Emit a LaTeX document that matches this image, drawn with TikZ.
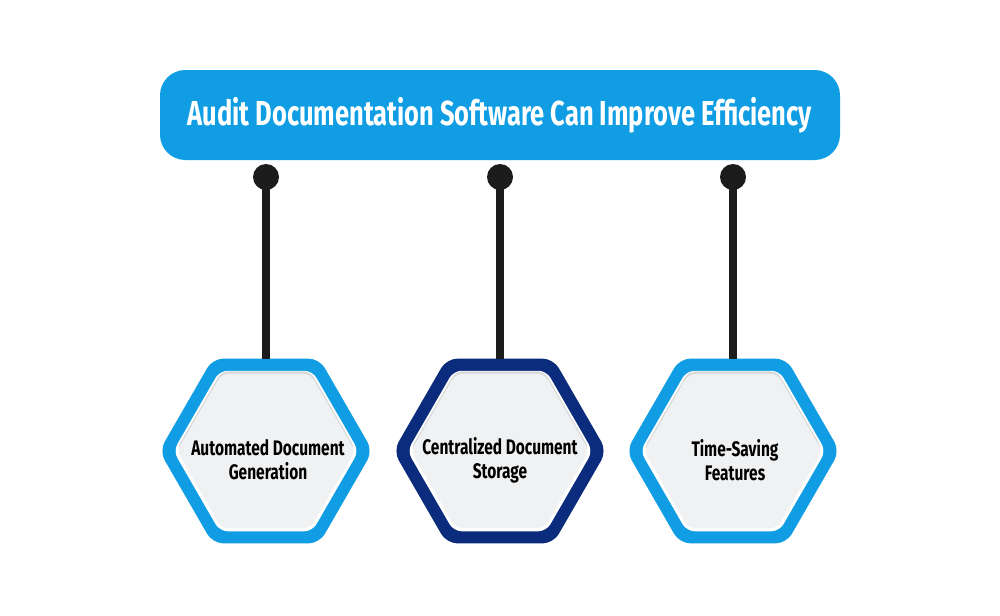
\documentclass[tikz,border=0pt]{standalone}
\usepackage{fontspec}
\setmainfont[FakeStretch=0.735]{Fira Sans}
\usetikzlibrary{shapes.geometric}
\definecolor{skyb}{HTML}{109DE3}
\definecolor{navyb}{HTML}{0B2C7C}
\definecolor{hexgrey}{HTML}{F0F1F2}
\definecolor{hexshadow}{HTML}{D8D9DA}
\definecolor{pin}{HTML}{1C1C1C}
\tikzset{
  hexbase/.style={regular polygon, regular polygon sides=6, inner sep=0pt, outer sep=0pt, draw=none},
  hexouter/.style={hexbase, minimum size=160pt, rounded corners=8pt, fill=#1},
  hexwhite/.style={hexbase, minimum size=139pt, rounded corners=6pt, fill=white},
  hexshade/.style={hexbase, minimum size=133.5pt, rounded corners=5pt, fill=hexshadow},
  hexinner/.style={hexbase, minimum size=133.5pt, rounded corners=5pt, fill=hexgrey},
  hexlabel/.style={align=center, font=\bfseries\fontsize{15.8}{18}\selectfont, text=black},
  pindot/.style={circle, fill=pin, minimum size=19.5pt, inner sep=0pt},
  pinline/.style={draw=pin, line width=6pt},
  banner/.style={rounded corners=19pt, fill=skyb, minimum width=510pt, minimum height=67.5pt, text=white, font=\bfseries\fontsize{26}{30}\selectfont}
}
\begin{document}
\begin{tikzpicture}[x=0.75pt,y=-0.75pt]
\fill[white] (0,0) rectangle (1000,615);
\useasboundingbox (0,0) rectangle (1000,615);
\coordinate (t1) at (266,177);
\coordinate (t2) at (500,177);
\coordinate (t3) at (733,177);
\foreach \i/\x/\c in {1/266/skyb, 2/500/navyb, 3/733/skyb}{
  \node[hexouter=\c] (h\i) at (\x,451) {};
  \draw[pinline] (t\i) -- (h\i.north);
  \node[hexwhite] (w\i) at (\x,451) {};
  \node[hexshade] (s\i) at (\x,448.5) {};
  \node[hexinner] (g\i) at (\x,451) {};
}
\node[banner] (title) at (500,115) {Audit Documentation Software Can Improve Efficiency};
\foreach \i in {1,2,3}{
  \node[pindot] (d\i) at (t\i) {};
}
\node[hexlabel] (l1) at (268,460) {Automated Document\\Generation};
\node[hexlabel] (l2) at (500,460) {Centralized Document\\Storage};
\node[hexlabel] (l3) at (735,460) {Time-Saving\\ Features};
\end{tikzpicture}
\end{document}
